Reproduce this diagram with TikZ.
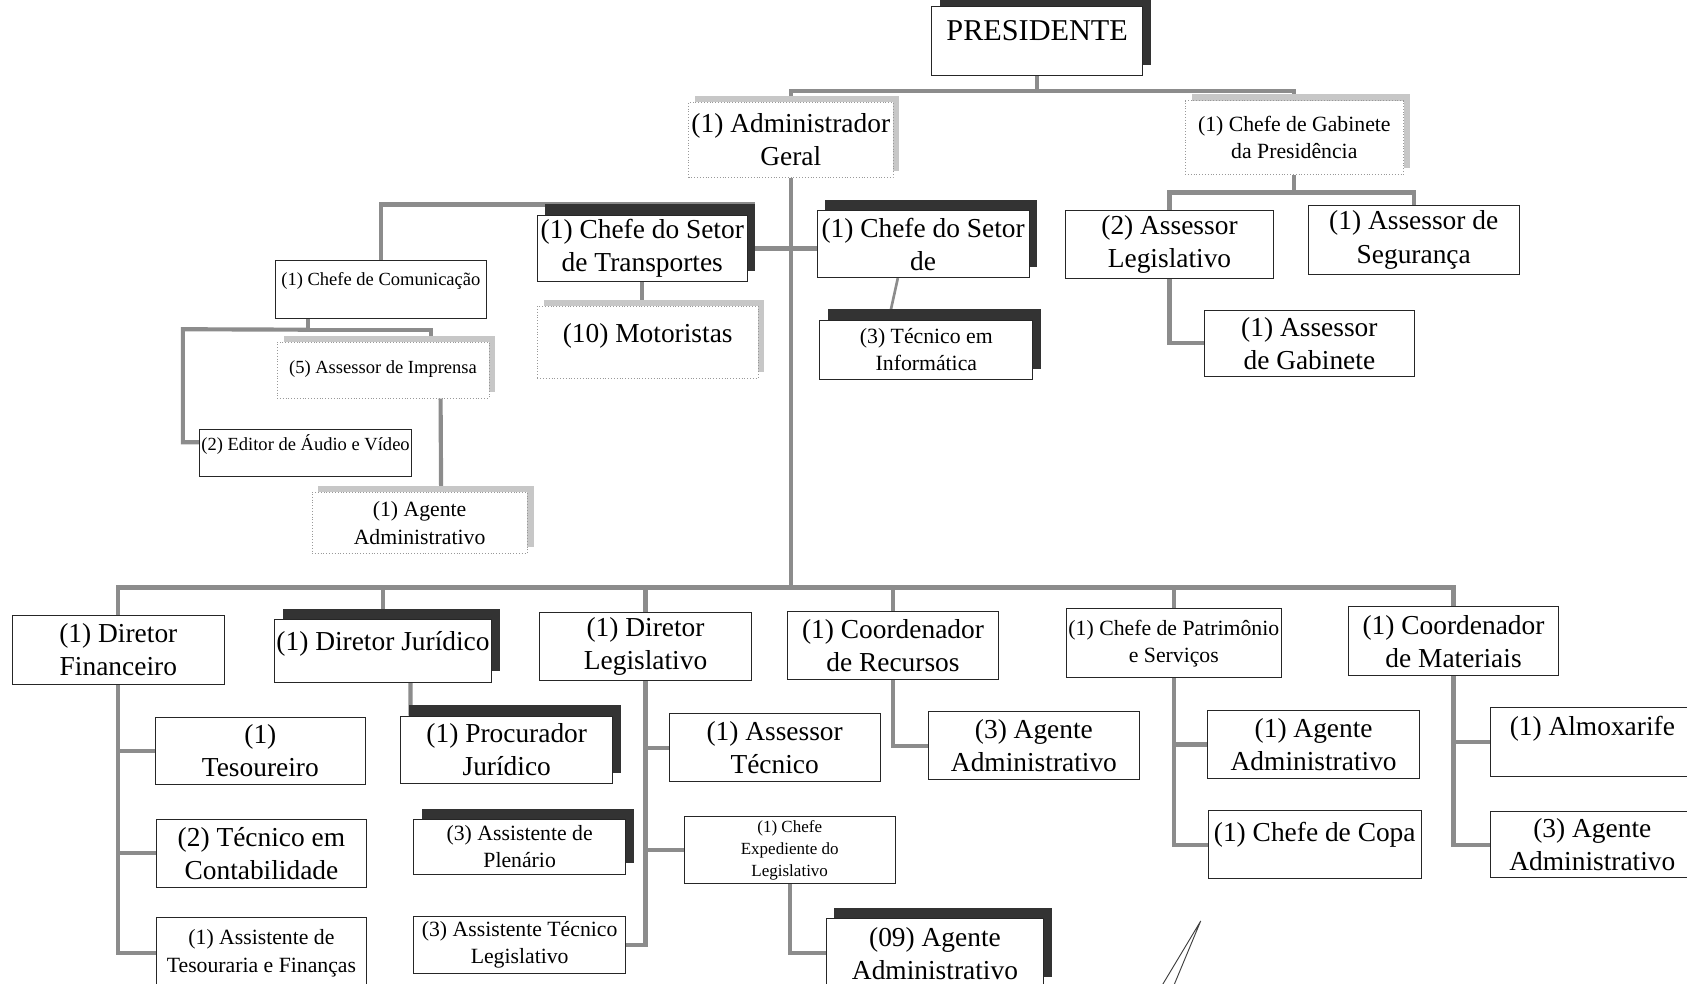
\documentclass[tikz,border=0pt]{standalone}
\usepackage{fontspec}
\setmainfont{Liberation Serif}
\usetikzlibrary{shadows}
\pgfdeclarelayer{background}
\pgfsetlayers{background,main}
\tikzset{
    bigtxt/.style={font=\fontsize{14.5}{17.5}\selectfont},
    midtxt/.style={font=\fontsize{11.5}{14.5}\selectfont},
    smalltxt/.style={font=\fontsize{9.8}{11.5}\selectfont},
    sz/.style 2 args={minimum width=#1*0.02cm, minimum height=#2*0.02cm},
    orgbox/.style={draw=black!85, line width=0.5pt, fill=white, align=center, inner sep=1pt, bigtxt},
    darkbox/.style={orgbox, copy shadow={shadow xshift=0.15cm, shadow yshift=0.2cm, fill=black!80, draw=none}},
    greybox/.style={orgbox, draw=black!40, densely dotted, copy shadow={shadow xshift=0.12cm, shadow yshift=0.12cm, fill=black!22, draw=none}},
    conn/.style={draw=black!45, line width=2.2pt},
}
\begin{document}
\begin{tikzpicture}[x=0.02cm, y=-0.02cm]
    \useasboundingbox (0,0) rectangle (1568,914);

    \node[darkbox, sz={196}{64}, font=\fontsize{16}{18}\selectfont] (pres) at (964,38) {PRESIDENTE\\[-7pt]~};
    \node[greybox, sz={190}{70}] (adm) at (735,130) {(1) Administrador\\Geral};
    \node[greybox, midtxt, sz={203}{69}] (gab) at (1203,128) {(1) Chefe de Gabinete\\da Presidência};
    \node[orgbox, sz={194}{63}] (aleg) at (1087,227) {(2) Assessor\\Legislativo};
    \node[orgbox, sz={196}{64}] (aseg) at (1314,223) {(1) Assessor de\\Segurança};
    \node[orgbox, sz={195}{61}] (agab) at (1217,319) {(1) Assessor\\de Gabinete};
    \node[darkbox, sz={195}{62}] (transp) at (597,231) {(1) Chefe do Setor\\de Transportes};
    \node[darkbox, sz={197}{62}] (setor) at (858,227) {(1) Chefe do Setor\\de};
    \node[greybox, sz={205}{67}] (motor) at (602,318) {(10) Motoristas\\[-8pt]~};
    \node[darkbox, midtxt, sz={198}{55}] (tinfo) at (861,325) {(3) Técnico em\\Informática};
    \node[orgbox, smalltxt, sz={196}{54}] (comun) at (354,269) {(1) Chefe de Comunicação\\~};
    \node[greybox, smalltxt, sz={197}{52}] (impr) at (356,344) {(5) Assessor de Imprensa\\[-8pt]~};
    \node[orgbox, smalltxt, sz={197}{43}] (editor) at (284,421) {(2) Editor de Áudio e Vídeo\\~};
    \node[greybox, midtxt, sz={200}{57}] (agcom) at (390,486) {(1) Agente\\Administrativo};

    \node[orgbox, sz={197}{64}] (dfin) at (110,604) {(1) Diretor\\Financeiro};
    \node[darkbox, sz={197}{58}] (djur) at (356,605) {(1) Diretor Jurídico\\[-7pt]~};
    \node[orgbox, sz={197}{63}] (dleg) at (600,601) {(1) Diretor\\Legislativo};
    \node[orgbox, sz={196}{63}] (crec) at (830,600) {(1) Coordenador\\de Recursos};
    \node[orgbox, midtxt, sz={194}{64}] (cpat) at (1091,598) {(1) Chefe de Patrimônio\\e Serviços};
    \node[orgbox, sz={195}{64}] (cmat) at (1351,596) {(1) Coordenador\\de Materiais};

    \node[orgbox, sz={195}{63}] (tes) at (242,698) {(1)\\Tesoureiro};
    \node[orgbox, sz={195}{63}] (tcont) at (243,793) {(2) Técnico em\\Contabilidade};
    \node[orgbox, midtxt, sz={195}{66}] (atf) at (243,886) {(1) Assistente de\\Tesouraria e Finanças};
    \node[darkbox, sz={197}{63}] (proc) at (471,697) {(1) Procurador\\Jurídico};
    \node[darkbox, midtxt, sz={197}{51}] (aplen) at (483,787) {(3) Assistente de\\Plenário};
    \node[orgbox, midtxt, sz={197}{53}] (atleg) at (483,878) {(3) Assistente Técnico\\Legislativo};
    \node[orgbox, sz={196}{63}] (atec) at (720,695) {(1) Assessor\\Técnico};
    \node[orgbox, font=\fontsize{9}{11.6}\selectfont, sz={196}{63}] (cexp) at (734,790) {(1) Chefe\\Expediente do\\Legislativo};
    \node[darkbox, sz={202}{64}] (ag09) at (869,886) {(09) Agente\\Administrativo};
    \node[orgbox, sz={196}{63}] (agrec) at (961,693) {(3) Agente\\Administrativo};
    \node[orgbox, sz={197}{64}] (agpat) at (1221,692) {(1) Agente\\Administrativo};
    \node[orgbox, sz={198}{63}] (copa) at (1222,785) {(1) Chefe de Copa\\[-4pt]~};
    \node[orgbox, sz={190}{64}] (almox) at (1480,690) {(1) Almoxarife\\~};
    \node[orgbox, sz={190}{62}] (agmat) at (1480,785) {(3) Agente\\Administrativo};

    \coordinate (bus) at (729,546);
    \coordinate (cshad) at (702,190);
    \coordinate (cleft) at (170,306);

    \begin{pgfonlayer}{background}
        \draw[conn] (pres.south) -- ++(0,14) -| (adm.north);
        \draw[conn] (pres.south) -- ++(0,14) -| (gab.north);
        \draw[conn] (gab.south) -- ++(0,16) -| (aleg.north);
        \draw[conn] (gab.south) -- ++(0,16) -| (aseg.north);
        \draw[conn] (aleg.south) |- (agab.west);
        \draw[conn] (adm.south) -- (adm.south |- bus);
        \draw[conn] (transp.east) -- (transp.east -| setor.west);
        \draw[conn] (transp.south) -- (transp.south |- motor.north);
        \draw[conn, line width=1.4pt] ([xshift=-0.47cm]setor.south) -- ([xshift=-0.7cm]tinfo.north);
        \draw[conn] (comun.north) |- (cshad);
        \draw[conn] ([xshift=-1.36cm]comun.south) -- ++(0,10) coordinate (cj) -| ([xshift=0.89cm]impr.north);
        \draw[conn] (cj) -- (cleft) |- ([yshift=0.2cm]editor.west);
        \draw[conn] ([xshift=1.07cm]impr.south) -- ([xshift=0.4cm]agcom.north);

        \draw[conn] (dfin.north) |- (bus) -| (cmat.north);
        \foreach \n in {djur, dleg, crec, cpat}
            \draw[conn] (\n.north) -- (\n.north |- bus);

        \draw[conn] (dfin.south) |- (tes.west);
        \draw[conn] (dfin.south) |- (tcont.west);
        \draw[conn] (dfin.south) |- (atf.west);
        \draw[conn] ([xshift=0.51cm]djur.south) -- ([xshift=-1.79cm]proc.north);
        \draw[conn] (dleg.south) |- (atec.west);
        \draw[conn] (dleg.south) |- (cexp.west);
        \draw[conn] (dleg.south) |- (atleg.east);
        \draw[conn] (cexp.south) |- (ag09.west);
        \draw[conn] (crec.south) |- (agrec.west);
        \draw[conn] (cpat.south) |- (agpat.west);
        \draw[conn] (cpat.south) |- (copa.west);
        \draw[conn] (cmat.south) |- (almox.west);
        \draw[conn] (cmat.south) |- (agmat.west);
    \end{pgfonlayer}

    \draw[black!75, line width=0.5pt] (1080,916) -- (1116,856) -- (1091,916);
\end{tikzpicture}
\end{document}
